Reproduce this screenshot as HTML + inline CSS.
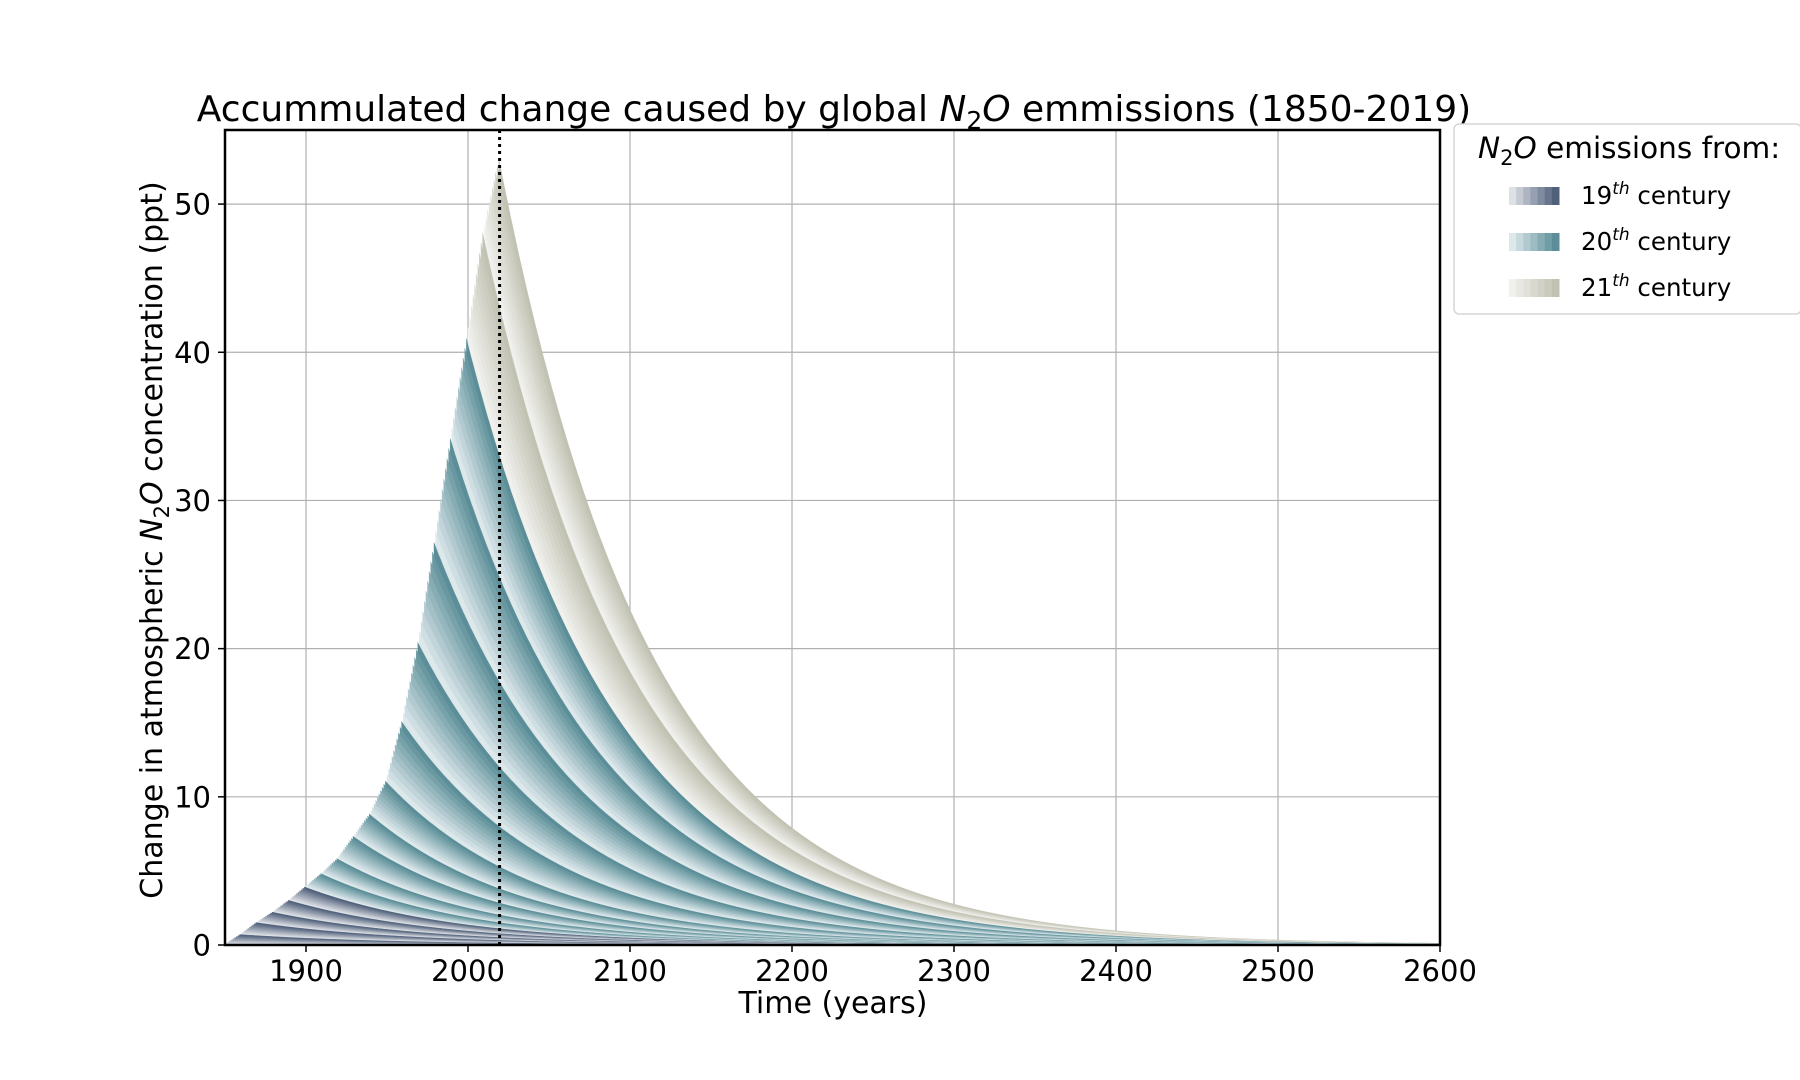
<!DOCTYPE html>
<html><head><meta charset="utf-8">
<style>
html,body{margin:0;padding:0;background:#fff;}
svg{display:block;font-family:"DejaVu Sans","Liberation Sans",sans-serif;}
</style></head>
<body>
<svg id="chart" width="1800" height="1080" viewBox="0 0 1800 1080" xmlns="http://www.w3.org/2000/svg">
<rect width="1800" height="1080" fill="#fff"/>
<g id="grid"></g>
<g id="areas"></g>
<g id="axes"></g>
<text x="834" y="121" font-size="36" text-anchor="middle">Accummulated change caused by global <tspan font-style="italic">N</tspan><tspan font-size="25" dy="8">2</tspan><tspan font-style="italic" dy="-8">O</tspan> emmissions (1850-2019)</text>
<text x="833" y="1013" font-size="30" text-anchor="middle">Time (years)</text>
<text transform="translate(162,540) rotate(-90)" font-size="30" text-anchor="middle">Change in atmospheric <tspan font-style="italic">N</tspan><tspan font-size="21" dy="7">2</tspan><tspan font-style="italic" dy="-7">O</tspan> concentration (ppt)</text>
<g>
<rect x="1454" y="124" width="347" height="190" rx="5" fill="#fff" stroke="#d6d6d6" stroke-width="1.5"/>
<text x="1478" y="158" font-size="29.5"><tspan font-style="italic">N</tspan><tspan font-size="21" dy="7">2</tspan><tspan font-style="italic" dy="-7">O</tspan> emissions from:</text>
<g id="legendEntries"></g>
</g>
</svg>
<script>
// ---- data ----
const startYear = 1850;
const endYear = 2019;
const decadeStarts = [1850,1860,1870,1880,1890,1900,1910,1920,1930,1940,1950,1960,1970,1980,1990,2000,2010];
const decadeEmissions = [0.074,0.092,0.09,0.107,0.126,0.136,0.156,0.219,0.235,0.325,0.537,0.717,0.92,1.02,1.064,1.177,1.03];
const lifetimeYears = [95];
const xTicks = [1900,2000,2100,2200,2300,2400,2500,2600];
const yTicks = [0,10,20,30,40,50];
const centuryNames = ["19","20","21"];
const centuryLight = ["#dde0e5","#dde8eb","#f0f0ed"];
const centuryDark = ["#50607a","#5b8e98","#c2c2b3"];
const markerYear = [2019.5];

// ---- scales ----
const X0=225,X1=1440,Y0=945,Y1=130;
const xmin=1850,xmax=2600,ymin=0,ymax=55;
const sx=v=>X0+(v-xmin)/(xmax-xmin)*(X1-X0);
const sy=v=>Y0-(v-ymin)/(ymax-ymin)*(Y0-Y1);
const NS="http://www.w3.org/2000/svg";
function mk(tag,attrs,parent){const e=document.createElementNS(NS,tag);for(const k in attrs)e.setAttribute(k,attrs[k]);parent.appendChild(e);return e;}
function hex(c){return [1,3,5].map(i=>parseInt(c.substr(i,2),16));}
function mix(a,b,t){const A=hex(a),B=hex(b);return "rgb("+A.map((v,i)=>Math.round(v+(B[i]-v)*t)).join(",")+")";}

const grid=document.getElementById('grid');
xTicks.forEach(t=>{const l=mk('line',{x1:sx(t),x2:sx(t),y1:Y1,y2:Y0,stroke:'#b0b0b0','stroke-width':1.2},grid);

});
yTicks.forEach(t=>{const l=mk('line',{x1:X0,x2:X1,y1:sy(t),y2:sy(t),stroke:'#b0b0b0','stroke-width':1.2},grid);

});

// ---- emissions per year ----
const tau=lifetimeYears[0];
const years=[];const em=[];
for(let y=startYear;y<=endYear;y++){
  let d=0;for(let i=0;i<decadeStarts.length;i++)if(y>=decadeStarts[i])d=i;
  years.push(y);em.push(decadeEmissions[d]);
}
const times=[];for(let t=xmin;t<=xmax;t++)times.push(t);
function cum(k,t){let s=0;for(let i=0;i<=k;i++){if(t>=years[i])s+=em[i]*Math.exp(-(t-years[i])/tau);}return s;}
const areas=document.getElementById('areas');
for(let k=years.length-1;k>=0;k--){
  const y=years[k];
  const cent=y<1900?0:(y<2000?1:2);
  const frac=(y%10)/9;
  const col=mix(centuryLight[cent],centuryDark[cent],frac);
  let d="M"+sx(y)+","+sy(0);
  times.forEach(t=>{if(t>=y)d+="L"+sx(t).toFixed(1)+","+sy(cum(k,t)).toFixed(2);});
  d+="L"+sx(xmax)+","+sy(0)+"Z";
  const p=mk('path',{d:d,fill:col,stroke:col,'stroke-width':0.4},areas);
  
  
}

// ---- axes ----
const ax=document.getElementById('axes');
const mline=mk('line',{x1:sx(markerYear[0]),x2:sx(markerYear[0]),y1:Y1,y2:Y0,stroke:'#000','stroke-width':3,'stroke-dasharray':'3,4'},ax);


const frame=mk('rect',{x:X0,y:Y1,width:X1-X0,height:Y0-Y1,fill:'none',stroke:'#000','stroke-width':2.5},ax);


xTicks.forEach(t=>{
  mk('line',{x1:sx(t),x2:sx(t),y1:Y0,y2:Y0+7,stroke:'#000','stroke-width':1.5},ax);
  const tx=mk('text',{x:sx(t),y:981,'font-size':29,'text-anchor':'middle'},ax);tx.textContent=t;
  
  
});
yTicks.forEach(t=>{
  mk('line',{x1:X0-7,x2:X0,y1:sy(t),y2:sy(t),stroke:'#000','stroke-width':1.5},ax);
  const tx=mk('text',{x:211,y:sy(t)+10.5,'font-size':29,'text-anchor':'end'},ax);tx.textContent=t;
  
  
});

// ---- legend ----
const le=document.getElementById('legendEntries');
centuryNames.forEach((c,i)=>{
  const g=mk('g',{},le);
  
  
  const y0=187+i*46;
  for(let j=0;j<7;j++){mk('rect',{x:1509+j*50/7,y:y0,width:50/7+0.5,height:18,fill:mix(centuryLight[i],centuryDark[i],j/6)},g);}
  const t=mk('text',{x:1581,y:y0+17,'font-size':24.5},g);
  t.innerHTML=c+'<tspan font-size="17" font-style="italic" dy="-10">th</tspan><tspan dy="10"> century</tspan>';
});
</script>
</body></html>
